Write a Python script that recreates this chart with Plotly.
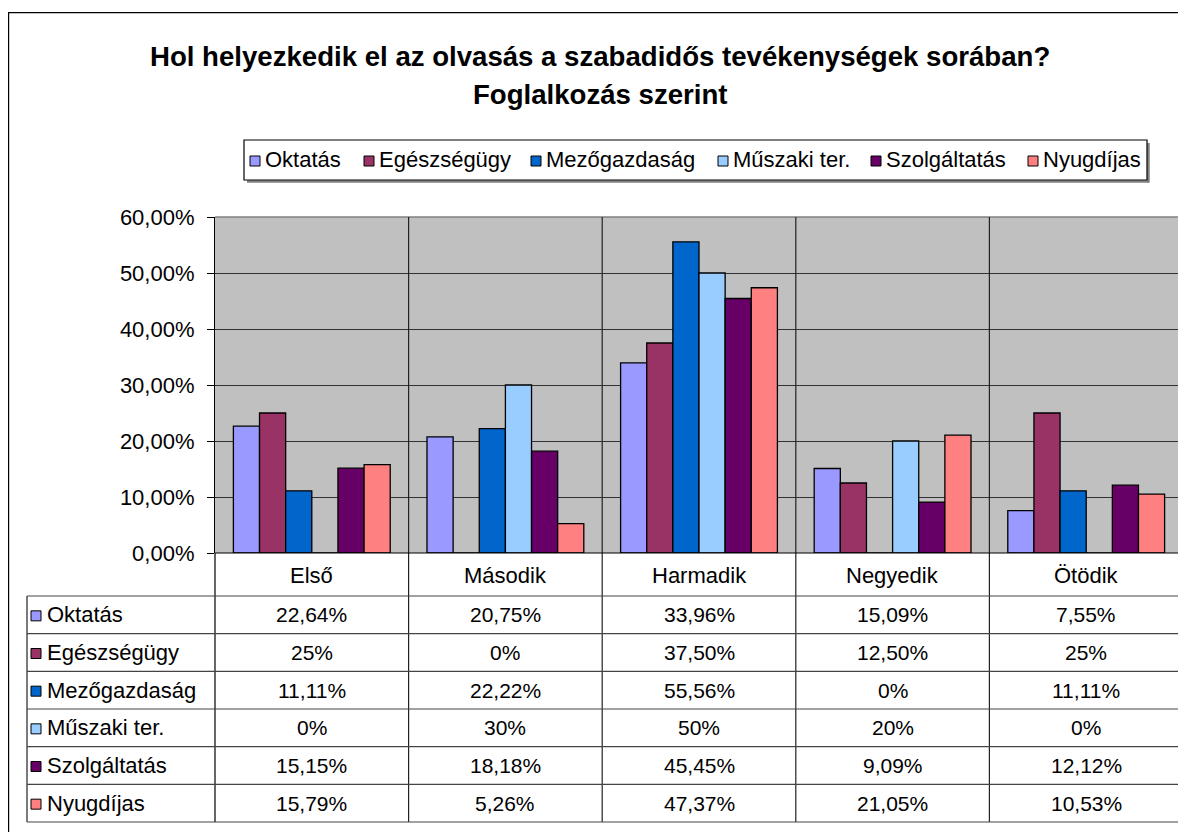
import plotly.graph_objects as go

# ---------------- data ----------------
categories = ["Első", "Második", "Harmadik", "Negyedik", "Ötödik"]
series_names = ["Oktatás", "Egészségügy", "Mezőgazdaság", "Műszaki ter.", "Szolgáltatás", "Nyugdíjas"]
oktatas = [22.64, 20.75, 33.96, 15.09, 7.55]
egeszsegugy = [25, 0, 37.5, 12.5, 25]
mezogazdasag = [11.11, 22.22, 55.56, 0, 11.11]
muszaki = [0, 30, 50, 20, 0]
szolgaltatas = [15.15, 18.18, 45.45, 9.09, 12.12]
nyugdijas = [15.79, 5.26, 47.37, 21.05, 10.53]
series_values = [oktatas, egeszsegugy, mezogazdasag, muszaki, szolgaltatas, nyugdijas]
colors = ["#9999FF", "#993366", "#0066CC", "#99CCFF", "#660066", "#FF8080"]
y_ticks = [0, 10, 20, 30, 40, 50, 60]
y_tick_labels = ["0,00%", "10,00%", "20,00%", "30,00%", "40,00%", "50,00%", "60,00%"]
title_lines = ["Hol helyezkedik el az olvasás a szabadidős tevékenységek sorában?",
               "Foglalkozás szerint"]

# ---------------- layout geometry (reference pixels) ----------------
OFF = 8                      # page body margin offset
W, H = 1186 - OFF, 832 - OFF
L, R, T, B = 215, 1183, 217, 553   # plot area in reference page pixels
FONT = "Liberation Sans, Arial, sans-serif"


def px(x):
    return (x - L) / (R - L)


def py(y):
    return (B - y) / (B - T)


def fmt(v):
    if abs(v - round(v)) < 1e-9:
        return f"{int(round(v))}%"
    return f"{v:.2f}".replace(".", ",") + "%"


fig = go.Figure()
for name, vals, col in zip(series_names, series_values, colors):
    fig.add_trace(go.Bar(
        x=categories, y=vals, name=name,
        marker=dict(color=col, line=dict(color="black", width=1.3)),
        showlegend=False,
    ))

shapes = []
annotations = []
LINE = "#222222"

# outer chart border
shapes.append(dict(type="rect", xref="paper", yref="paper",
                   x0=px(8.6), x1=px(1220), y0=py(12.6), y1=py(870),
                   line=dict(color="black", width=1.2), layer="below"))

# plot area top/right border (gray)
shapes.append(dict(type="line", xref="paper", yref="paper", x0=0, x1=1, y0=1, y1=1,
                   line=dict(color="#808080", width=1.5)))
shapes.append(dict(type="line", xref="paper", yref="paper", x0=1, x1=1, y0=0, y1=1,
                   line=dict(color="#808080", width=1.5)))

# category separators extending through the data table
n = len(categories)
row_top = 596
row_bot = 822
for i in range(1, n):
    shapes.append(dict(type="line", xref="x", yref="paper",
                       x0=i - 0.5, x1=i - 0.5, y0=1, y1=py(row_bot),
                       line=dict(color=LINE, width=1.2)))
shapes.append(dict(type="line", xref="paper", yref="paper", x0=1, x1=1,
                   y0=0, y1=py(row_bot), line=dict(color=LINE, width=1.2)))
shapes.append(dict(type="line", xref="paper", yref="paper", x0=0, x1=0,
                   y0=0, y1=py(row_bot), line=dict(color="black", width=1.2)))
shapes.append(dict(type="line", xref="paper", yref="paper", x0=px(27), x1=px(27),
                   y0=py(row_top), y1=py(row_bot), line=dict(color=LINE, width=1.2)))

# horizontal table lines
nrows = len(series_names)
rh = (row_bot - row_top) / nrows
for r in range(nrows + 1):
    yy = row_top + r * rh
    shapes.append(dict(type="line", xref="paper", yref="paper", x0=px(27), x1=1,
                       y0=py(yy), y1=py(yy), line=dict(color="#444444", width=1.2)))
shapes.append(dict(type="line", xref="paper", yref="paper", x0=0, x1=1,
                   y0=0, y1=0, line=dict(color="black", width=1.2)))

# category labels
for c in categories:
    annotations.append(dict(x=c, xref="x", y=py(575), yref="paper", text=c, showarrow=False,
                            font=dict(family=FONT, size=22, color="black"),
                            xanchor="center", yanchor="middle"))

# table rows
for r, (name, vals, col) in enumerate(zip(series_names, series_values, colors)):
    yc = row_top + (r + 0.5) * rh
    shapes.append(dict(type="rect", xref="paper", yref="paper",
                       x0=px(31), x1=px(41), y0=py(yc - 4), y1=py(yc + 6),
                       fillcolor=col, line=dict(color="black", width=1)))
    annotations.append(dict(x=px(45), xref="paper", y=py(yc), yref="paper", text=name,
                            showarrow=False, xanchor="left", yanchor="middle",
                            font=dict(family=FONT, size=22, color="black")))
    for i, c in enumerate(categories):
        annotations.append(dict(x=c, xref="x", y=py(yc), yref="paper", text=fmt(vals[i]),
                                showarrow=False, xanchor="center", yanchor="middle",
                                font=dict(family=FONT, size=21, color="black")))

# legend (drawn manually)
leg_l, leg_r, leg_t, leg_b = 244, 1147, 140, 180
shapes.append(dict(type="line", xref="paper", yref="paper",
                   x0=px(leg_l + 3), x1=px(leg_r + 2), y0=py(leg_b + 1.5), y1=py(leg_b + 1.5),
                   line=dict(color="#808080", width=2.5)))
shapes.append(dict(type="line", xref="paper", yref="paper",
                   x0=px(leg_r + 1.5), x1=px(leg_r + 1.5), y0=py(leg_t + 3), y1=py(leg_b + 2.5),
                   line=dict(color="#808080", width=2.5)))
shapes.append(dict(type="rect", xref="paper", yref="paper",
                   x0=px(leg_l), x1=px(leg_r), y0=py(leg_t), y1=py(leg_b),
                   fillcolor="white", line=dict(color="black", width=1.2)))
leg_x = [250, 364, 531, 718, 871, 1028]
leg_yc = 160
for name, col, lx in zip(series_names, colors, leg_x):
    shapes.append(dict(type="rect", xref="paper", yref="paper",
                       x0=px(lx), x1=px(lx + 10), y0=py(leg_yc - 4), y1=py(leg_yc + 6),
                       fillcolor=col, line=dict(color="black", width=1)))
    annotations.append(dict(x=px(lx + 13), xref="paper", y=py(leg_yc), yref="paper", text=name,
                            showarrow=False, xanchor="left", yanchor="middle",
                            font=dict(family=FONT, size=22, color="black")))

# title
for k, line in enumerate(title_lines):
    annotations.append(dict(x=px(600), xref="paper", y=py(57 + 38 * k), yref="paper",
                            text=f"<b>{line}</b>", showarrow=False,
                            xanchor="center", yanchor="middle",
                            font=dict(family=FONT, size=27.6, color="black")))

fig.update_layout(
    width=W, height=H,
    margin=dict(l=L - OFF, r=W - (R - OFF), t=T - OFF, b=H - (B - OFF), pad=0),
    paper_bgcolor="white", plot_bgcolor="#C0C0C0",
    barmode="group", bargap=0.19, bargroupgap=0,
    shapes=shapes, annotations=annotations,
    showlegend=False,
    xaxis=dict(showticklabels=False, showgrid=False, zeroline=False, showline=False,
               ticks="", range=[-0.5, n - 0.5]),
    yaxis=dict(range=[0, 60], tickvals=y_ticks, ticktext=y_tick_labels,
               showgrid=True, gridcolor="#333333", gridwidth=1,
               zeroline=False, showline=True, linecolor="black", linewidth=1.2,
               ticks="outside", ticklen=7, tickcolor="black", ticklabelstandoff=8,
               tickfont=dict(family=FONT, size=22, color="black")),
)

fig.write_html("out.html")
